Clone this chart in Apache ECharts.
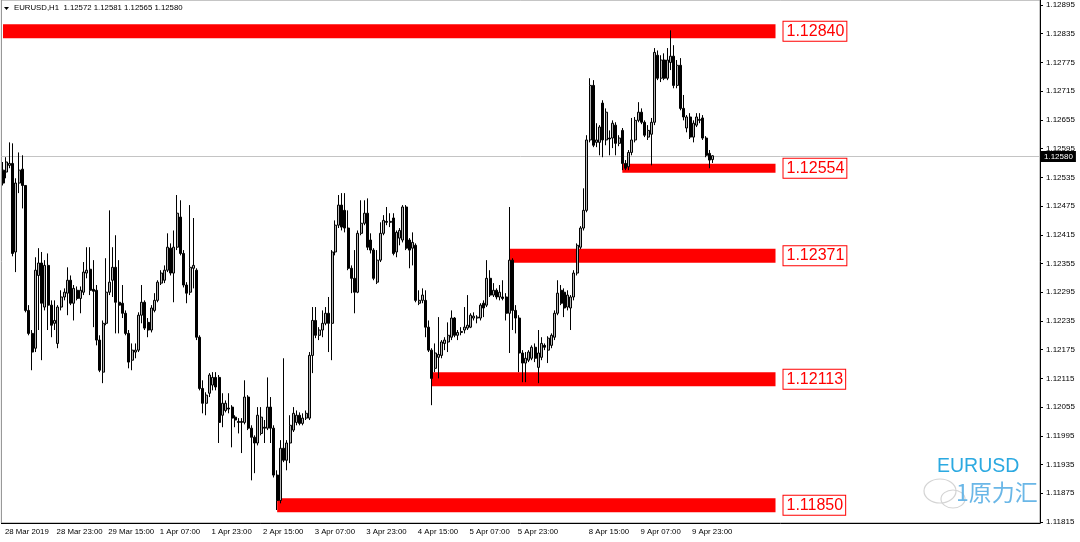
<!DOCTYPE html>
<html>
<head>
<meta charset="utf-8">
<title>EURUSD,H1</title>
<script src="https://cdn.jsdelivr.net/npm/echarts@6/dist/echarts.min.js"></script>
<style>
    html, body { margin: 0; padding: 0; background: #fff; }
    #main { width: 1080px; height: 542px; }
</style>
</head>
<body>
<div id="main"></div>
<script type="text/javascript">
// EURUSD H1 bars: [open, close, low, high]
var bars = [
    [1.12550, 1.12523, 1.12518, 1.12567], [1.12546, 1.12567, 1.12533, 1.12577], [1.12560, 1.12564, 1.12554, 1.12608],
    [1.12564, 1.12376, 1.12370, 1.12606], [1.12379, 1.12523, 1.12337, 1.12533], [1.12523, 1.12550, 1.12502, 1.12587],
    [1.12552, 1.12518, 1.12470, 1.12581], [1.12518, 1.12257, 1.12253, 1.12518], [1.12257, 1.12209, 1.12205, 1.12268],
    [1.12209, 1.12170, 1.12132, 1.12216], [1.12178, 1.12341, 1.12170, 1.12368], [1.12330, 1.12356, 1.12216, 1.12387],
    [1.12356, 1.12272, 1.12153, 1.12379], [1.12264, 1.12351, 1.12257, 1.12362], [1.12351, 1.12268, 1.12216, 1.12376],
    [1.12268, 1.12226, 1.12201, 1.12278], [1.12230, 1.12236, 1.12216, 1.12278], [1.12188, 1.12264, 1.12178, 1.12268],
    [1.12264, 1.12285, 1.12257, 1.12299], [1.12285, 1.12295, 1.12278, 1.12303], [1.12293, 1.12320, 1.12247, 1.12347],
    [1.12320, 1.12272, 1.12268, 1.12330], [1.12272, 1.12303, 1.12236, 1.12310], [1.12299, 1.12282, 1.12278, 1.12307],
    [1.12282, 1.12299, 1.12251, 1.12307], [1.12295, 1.12337, 1.12289, 1.12358], [1.12335, 1.12341, 1.12324, 1.12389],
    [1.12343, 1.12299, 1.12289, 1.12389], [1.12301, 1.12297, 1.12222, 1.12362], [1.12299, 1.12195, 1.12184, 1.12310],
    [1.12195, 1.12132, 1.12128, 1.12205], [1.12128, 1.12230, 1.12105, 1.12236], [1.12230, 1.12295, 1.12226, 1.12366],
    [1.12295, 1.12316, 1.12289, 1.12466], [1.12320, 1.12347, 1.12285, 1.12389], [1.12347, 1.12274, 1.12209, 1.12414],
    [1.12274, 1.12268, 1.12209, 1.12362], [1.12272, 1.12251, 1.12241, 1.12310], [1.12251, 1.12209, 1.12205, 1.12257],
    [1.12209, 1.12149, 1.12136, 1.12216], [1.12153, 1.12174, 1.12132, 1.12188], [1.12170, 1.12174, 1.12157, 1.12188],
    [1.12174, 1.12247, 1.12170, 1.12253], [1.12247, 1.12274, 1.12230, 1.12310], [1.12274, 1.12220, 1.12216, 1.12278],
    [1.12232, 1.12216, 1.12201, 1.12241], [1.12216, 1.12262, 1.12211, 1.12268], [1.12257, 1.12278, 1.12253, 1.12293],
    [1.12278, 1.12316, 1.12274, 1.12320], [1.12314, 1.12335, 1.12310, 1.12341], [1.12320, 1.12341, 1.12314, 1.12351],
    [1.12341, 1.12389, 1.12337, 1.12418], [1.12387, 1.12335, 1.12330, 1.12397], [1.12335, 1.12389, 1.12274, 1.12424],
    [1.12389, 1.12460, 1.12383, 1.12498], [1.12452, 1.12376, 1.12372, 1.12487], [1.12376, 1.12310, 1.12305, 1.12383],
    [1.12310, 1.12293, 1.12272, 1.12316], [1.12295, 1.12347, 1.12289, 1.12477], [1.12345, 1.12351, 1.12303, 1.12450],
    [1.12341, 1.12201, 1.12195, 1.12345], [1.12201, 1.12094, 1.12090, 1.12205], [1.12094, 1.12063, 1.12042, 1.12111],
    [1.12063, 1.12080, 1.12038, 1.12086], [1.12084, 1.12122, 1.12076, 1.12126], [1.12101, 1.12117, 1.12090, 1.12128],
    [1.12117, 1.12097, 1.12090, 1.12128], [1.12117, 1.12023, 1.11980, 1.12122], [1.12038, 1.12063, 1.12013, 1.12084],
    [1.12048, 1.12063, 1.12044, 1.12069], [1.12053, 1.12051, 1.12042, 1.12084], [1.12055, 1.12032, 1.11971, 1.12059],
    [1.12034, 1.12028, 1.12013, 1.12038], [1.12025, 1.12023, 1.12000, 1.12032], [1.12023, 1.12025, 1.11959, 1.12032],
    [1.12023, 1.12076, 1.12019, 1.12111], [1.12076, 1.12011, 1.12007, 1.12080], [1.12011, 1.11992, 1.11902, 1.12017],
    [1.11992, 1.11980, 1.11917, 1.11996], [1.11980, 1.12038, 1.11975, 1.12055], [1.12000, 1.12034, 1.11996, 1.12055],
    [1.12013, 1.12011, 1.11980, 1.12028], [1.12011, 1.12055, 1.12007, 1.12117], [1.12055, 1.12011, 1.11980, 1.12076],
    [1.12011, 1.11913, 1.11908, 1.12017], [1.11913, 1.11860, 1.11840, 1.11923], [1.11860, 1.11969, 1.11854, 1.11986],
    [1.11969, 1.11944, 1.11940, 1.12157], [1.11944, 1.11980, 1.11923, 1.11986], [1.11980, 1.12017, 1.11938, 1.12038],
    [1.12007, 1.12042, 1.12003, 1.12055], [1.12023, 1.12038, 1.12017, 1.12048], [1.12038, 1.12021, 1.12017, 1.12044],
    [1.12021, 1.12032, 1.12017, 1.12042], [1.12032, 1.12042, 1.12028, 1.12048], [1.12032, 1.12163, 1.12028, 1.12170],
    [1.12163, 1.12236, 1.12126, 1.12264], [1.12236, 1.12205, 1.12199, 1.12264], [1.12205, 1.12216, 1.12195, 1.12222],
    [1.12216, 1.12230, 1.12201, 1.12257], [1.12230, 1.12251, 1.12226, 1.12264], [1.12251, 1.12230, 1.12170, 1.12285],
    [1.12230, 1.12379, 1.12153, 1.12383], [1.12379, 1.12435, 1.12372, 1.12445], [1.12435, 1.12477, 1.12429, 1.12498],
    [1.12477, 1.12431, 1.12424, 1.12502], [1.12466, 1.12429, 1.12420, 1.12502], [1.12429, 1.12345, 1.12341, 1.12466],
    [1.12345, 1.12324, 1.12293, 1.12351], [1.12324, 1.12295, 1.12251, 1.12383], [1.12295, 1.12418, 1.12293, 1.12424],
    [1.12418, 1.12439, 1.12414, 1.12487], [1.12439, 1.12460, 1.12435, 1.12487], [1.12460, 1.12389, 1.12383, 1.12491],
    [1.12404, 1.12383, 1.12376, 1.12418], [1.12383, 1.12324, 1.12320, 1.12387], [1.12316, 1.12362, 1.12312, 1.12383],
    [1.12362, 1.12418, 1.12358, 1.12441], [1.12418, 1.12445, 1.12414, 1.12456], [1.12443, 1.12441, 1.12435, 1.12473],
    [1.12441, 1.12443, 1.12431, 1.12460], [1.12450, 1.12376, 1.12372, 1.12460], [1.12379, 1.12420, 1.12368, 1.12424],
    [1.12408, 1.12424, 1.12393, 1.12429], [1.12404, 1.12473, 1.12399, 1.12477], [1.12473, 1.12387, 1.12383, 1.12477],
    [1.12404, 1.12383, 1.12345, 1.12408], [1.12387, 1.12399, 1.12351, 1.12420], [1.12393, 1.12278, 1.12274, 1.12397],
    [1.12272, 1.12278, 1.12268, 1.12299], [1.12278, 1.12289, 1.12272, 1.12303], [1.12278, 1.12222, 1.12201, 1.12299],
    [1.12222, 1.12174, 1.12170, 1.12236], [1.12174, 1.12115, 1.12059, 1.12178], [1.12136, 1.12168, 1.12128, 1.12188],
    [1.12159, 1.12165, 1.12115, 1.12243], [1.12163, 1.12191, 1.12157, 1.12195], [1.12188, 1.12195, 1.12174, 1.12201],
    [1.12191, 1.12205, 1.12170, 1.12232], [1.12201, 1.12241, 1.12195, 1.12257], [1.12241, 1.12205, 1.12201, 1.12243],
    [1.12205, 1.12211, 1.12195, 1.12216], [1.12211, 1.12213, 1.12205, 1.12222], [1.12216, 1.12222, 1.12209, 1.12264],
    [1.12220, 1.12226, 1.12216, 1.12289], [1.12222, 1.12247, 1.12220, 1.12251], [1.12241, 1.12245, 1.12236, 1.12253],
    [1.12241, 1.12243, 1.12230, 1.12247], [1.12241, 1.12268, 1.12236, 1.12272], [1.12272, 1.12262, 1.12243, 1.12278],
    [1.12268, 1.12324, 1.12264, 1.12362], [1.12324, 1.12289, 1.12285, 1.12341], [1.12289, 1.12299, 1.12285, 1.12314],
    [1.12299, 1.12285, 1.12280, 1.12303], [1.12285, 1.12295, 1.12278, 1.12310], [1.12285, 1.12282, 1.12278, 1.12320],
    [1.12285, 1.12251, 1.12236, 1.12293], [1.12251, 1.12362, 1.12168, 1.12473], [1.12362, 1.12257, 1.12216, 1.12366],
    [1.12257, 1.12241, 1.12209, 1.12268], [1.12241, 1.12168, 1.12128, 1.12247], [1.12168, 1.12147, 1.12107, 1.12174],
    [1.12147, 1.12157, 1.12107, 1.12170], [1.12153, 1.12170, 1.12149, 1.12174], [1.12157, 1.12180, 1.12153, 1.12184],
    [1.12180, 1.12157, 1.12149, 1.12188], [1.12138, 1.12168, 1.12105, 1.12216], [1.12159, 1.12188, 1.12153, 1.12201],
    [1.12184, 1.12180, 1.12174, 1.12188], [1.12174, 1.12199, 1.12147, 1.12203], [1.12184, 1.12205, 1.12178, 1.12209],
    [1.12201, 1.12251, 1.12195, 1.12257], [1.12251, 1.12293, 1.12247, 1.12320], [1.12299, 1.12272, 1.12268, 1.12310],
    [1.12295, 1.12262, 1.12243, 1.12303], [1.12264, 1.12289, 1.12257, 1.12299], [1.12262, 1.12285, 1.12216, 1.12289],
    [1.12285, 1.12335, 1.12278, 1.12341], [1.12335, 1.12393, 1.12330, 1.12397], [1.12389, 1.12429, 1.12385, 1.12433],
    [1.12429, 1.12466, 1.12424, 1.12512], [1.12466, 1.12613, 1.12462, 1.12623], [1.12613, 1.12727, 1.12608, 1.12742],
    [1.12727, 1.12602, 1.12598, 1.12738], [1.12608, 1.12613, 1.12598, 1.12648], [1.12608, 1.12640, 1.12581, 1.12644],
    [1.12690, 1.12613, 1.12577, 1.12696], [1.12613, 1.12671, 1.12602, 1.12679], [1.12617, 1.12615, 1.12581, 1.12633],
    [1.12617, 1.12648, 1.12596, 1.12654], [1.12644, 1.12606, 1.12581, 1.12650], [1.12606, 1.12617, 1.12600, 1.12623],
    [1.12633, 1.12564, 1.12550, 1.12638], [1.12564, 1.12554, 1.12550, 1.12571], [1.12557, 1.12587, 1.12550, 1.12592],
    [1.12587, 1.12613, 1.12581, 1.12659], [1.12613, 1.12654, 1.12608, 1.12661], [1.12654, 1.12671, 1.12650, 1.12692],
    [1.12671, 1.12650, 1.12646, 1.12679], [1.12650, 1.12623, 1.12619, 1.12654], [1.12619, 1.12633, 1.12613, 1.12644],
    [1.12625, 1.12650, 1.12560, 1.12659], [1.12650, 1.12796, 1.12644, 1.12805], [1.12790, 1.12742, 1.12738, 1.12800],
    [1.12742, 1.12780, 1.12734, 1.12790], [1.12780, 1.12742, 1.12738, 1.12794], [1.12742, 1.12780, 1.12738, 1.12805],
    [1.12775, 1.12788, 1.12759, 1.12842], [1.12788, 1.12727, 1.12721, 1.12811], [1.12727, 1.12769, 1.12721, 1.12780],
    [1.12769, 1.12679, 1.12675, 1.12784], [1.12679, 1.12661, 1.12654, 1.12707], [1.12638, 1.12661, 1.12629, 1.12665],
    [1.12661, 1.12619, 1.12615, 1.12669], [1.12619, 1.12648, 1.12608, 1.12654], [1.12644, 1.12661, 1.12640, 1.12669],
    [1.12654, 1.12656, 1.12648, 1.12669], [1.12659, 1.12617, 1.12613, 1.12665], [1.12617, 1.12581, 1.12577, 1.12621],
    [1.12585, 1.12571, 1.12554, 1.12592], [1.12572, 1.12580, 1.12565, 1.12581]
];

// bottom time labels and the bar they sit on
var xTickIdx = [0, 16, 32, 48, 64, 80, 96, 112, 128, 144, 159, 181, 197, 213];
var xTickLabels = ['28 Mar 2019', '28 Mar 23:00', '29 Mar 15:00', '1 Apr 07:00', '1 Apr 23:00', '2 Apr 15:00',
    '3 Apr 07:00', '3 Apr 23:00', '4 Apr 15:00', '5 Apr 07:00', '5 Apr 23:00', '8 Apr 15:00', '9 Apr 07:00', '9 Apr 23:00'];

// right price scale
var yTicks = [1.11815, 1.11875, 1.11935, 1.11995, 1.12055, 1.12115, 1.12175, 1.12235, 1.12295,
    1.12355, 1.12415, 1.12475, 1.12535, 1.12595, 1.12655, 1.12715, 1.12775, 1.12835, 1.12895];

// support / resistance zones
var zoneLevels = [1.12840, 1.12554, 1.12371, 1.12113, 1.11850];
var zoneStartBar = [0, 192, 157, 133, 85];

var currentPrice = 1.12580;
var symbolTitle = 'EURUSD,H1  1.12572 1.12581 1.12565 1.12580';

var slotCount = 322;          // bar slots across the window (chart shifted left)
var zoneEndBar = 239;
var zoneHeights = [14, 9, 14, 14, 14];
var FONT = '"Liberation Sans", Arial, sans-serif';

var slots = [];
for (var i = 0; i < slotCount; i++) slots.push(i);

var myChart = echarts.init(document.getElementById('main'));

var option = {
    backgroundColor: '#ffffff',
    animation: false,
    grid: { left: 1.4, right: 40, top: 0, bottom: 19, show: true, borderColor: '#8c8c8c', borderWidth: 1, backgroundColor: 'transparent' },
    xAxis: {
        type: 'category',
        data: slots,
        boundaryGap: true,
        axisLine: { lineStyle: { color: '#000' } },
        axisTick: {
            alignWithLabel: true, length: 4, lineStyle: { color: '#000' },
            interval: function (index) { return xTickIdx.indexOf(index) >= 0; }
        },
        axisLabel: {
            interval: function (index) { return xTickIdx.indexOf(index) >= 0; },
            formatter: function (value, index) {
                var k = xTickIdx.indexOf(Number(value));
                return k >= 0 ? xTickLabels[k] : '';
            },
            align: 'left', margin: 5, padding: [0, 0, 0, 2],
            color: '#000', fontSize: 7.8, fontFamily: FONT
        },
        splitLine: { show: false }
    },
    yAxis: {
        type: 'value',
        position: 'right',
        min: 1.118129,
        max: 1.129054,
        axisLine: { show: true, lineStyle: { color: '#000' } },
        axisTick: { show: true, length: 3, customValues: yTicks, lineStyle: { color: '#000' } },
        axisLabel: {
            customValues: yTicks,
            formatter: function (v) { return v.toFixed(5); },
            margin: 6, color: '#000', fontSize: 8, fontFamily: FONT
        },
        splitLine: { show: false }
    },
    graphic: [
        { type: 'polygon', shape: { points: [[4, 7], [9, 7], [6.5, 10]] }, style: { fill: '#000' } },
        { type: 'text', left: 14, top: 4, style: { text: symbolTitle, font: '7.8px ' + FONT, fill: '#000' } },
        { type: 'text', left: 937, top: 457, style: { text: 'EURUSD', font: '19.5px ' + FONT, fill: '#2ba9e1' } },
        { type: 'ellipse', shape: { cx: 940, cy: 491, rx: 16, ry: 12 }, style: { fill: 'none', stroke: '#d4d4d4', lineWidth: 1.2 } },
        { type: 'ellipse', shape: { cx: 953, cy: 499, rx: 12, ry: 9 }, style: { fill: 'none', stroke: '#d4d4d4', lineWidth: 1.2 } },
        { type: 'text', left: 956, top: 481, style: { text: '1原力汇', font: '23px "Noto Sans CJK SC", sans-serif', fill: '#5aafe4', opacity: 0.9 } }
    ],
    series: [
        {
            type: 'custom',
            name: 'zones',
            z: 1,
            silent: true,
            clip: false,
            data: zoneLevels.map(function (v, i) { return [zoneStartBar[i], v, i]; }),
            encode: { x: 0, y: 1 },
            renderItem: function (params, api) {
                var k = api.value(2);
                var level = api.value(1);
                var p0 = api.coord([api.value(0), level]);
                var p1 = api.coord([zoneEndBar, level]);
                var half = api.size([1, 0])[0] / 2;
                var xEnd = p1[0] + half;
                var h = zoneHeights[k];
                return {
                    type: 'group',
                    children: [
                        { type: 'rect', shape: { x: p0[0], y: p0[1] - h / 2, width: xEnd - p0[0], height: h }, style: { fill: '#ff0000' } },
                        {
                            type: 'text', x: xEnd + 8, y: p0[1],
                            style: {
                                text: zoneLevels[k].toFixed(5), fill: '#ff0000', font: '16px ' + FONT,
                                verticalAlign: 'middle', backgroundColor: '#fff', borderColor: '#ff0000', borderWidth: 1,
                                padding: [2, 2, 1, 3]
                            }
                        }
                    ]
                };
            }
        },
        {
            // bid line across the window with its price tag on the scale
            type: 'custom',
            name: 'bid',
            z: 2,
            silent: true,
            clip: false,
            data: [[0, currentPrice]],
            encode: { x: 0, y: 1 },
            renderItem: function (params, api) {
                var p = api.coord([0, api.value(1)]);
                var cs = params.coordSys;
                var y = Math.round(p[1]) + 0.5;
                return {
                    type: 'group',
                    children: [
                        { type: 'line', shape: { x1: cs.x, y1: y, x2: cs.x + cs.width, y2: y }, style: { stroke: '#c4c4c4', lineWidth: 1 } },
                        {
                            type: 'text', x: cs.x + cs.width + 1, y: y,
                            style: {
                                text: api.value(1).toFixed(5), fill: '#fff', font: '8px ' + FONT,
                                verticalAlign: 'middle', backgroundColor: '#000', padding: [2, 3, 1, 3]
                            }
                        }
                    ]
                };
            }
        },
        {
            type: 'candlestick',
            name: 'EURUSD,H1',
            z: 3,
            data: bars,
            barWidth: 2.5,
            itemStyle: { color: '#b4b4b4', color0: '#000000', borderColor: '#000000', borderColor0: '#000000', borderWidth: 1 },
            emphasis: { disabled: true }
        }
    ]
};
myChart.setOption(option);
</script>
</body>
</html>
